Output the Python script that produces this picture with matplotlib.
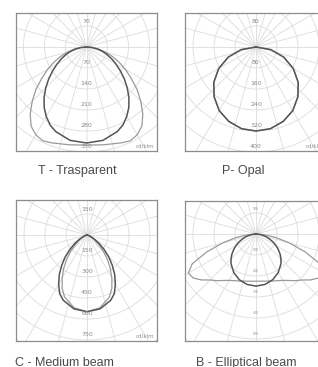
import numpy as np
import matplotlib
matplotlib.use("Agg")
import matplotlib.pyplot as plt

W, H = 318, 367
DPI = 100

# ---------------- data (cd/klm, gamma angle from nadir in degrees) ----------------
gamma_T = [0, 10, 20, 25, 30, 35, 40, 45, 50, 55, 60, 65, 70, 75, 80, 85, 90]
T_c0 = [320, 316, 300, 287, 268, 246, 220, 192, 164, 137, 113, 92, 72, 54, 36, 18, 0]
T_c90 = [327, 331, 340, 345, 338, 322, 292, 256, 220, 182, 150, 120, 92, 65, 42, 20, 0]
labels_T = ["70", "140", "210", "280", "350"]

gamma_P = [0, 10, 20, 30, 40, 50, 60, 70, 80, 90]
P_c0 = [320, 316, 302, 280, 248, 210, 164, 112, 57, 0]
P_c90 = [320, 316, 302, 280, 248, 210, 164, 112, 57, 0]
labels_P = ["80", "160", "240", "320", "400"]

gamma_C = [0, 10, 20, 25, 30, 35, 40, 45, 50, 55, 60, 70, 80, 90]
C_c0 = [548, 536, 496, 462, 405, 345, 280, 218, 158, 106, 66, 24, 6, 0]
C_c90 = [548, 528, 470, 420, 355, 290, 225, 165, 112, 72, 44, 14, 3, 0]
labels_C = ["150", "300", "450", "600", "750"]

gamma_B = [0, 10, 20, 30, 40, 45, 50, 55, 60, 65, 70, 75, 80, 85, 90]
B_c0 = [248, 244, 232, 212, 185, 168, 150, 130, 110, 89, 68, 49, 30, 14, 0]
B_c90 = [225, 228, 238, 255, 290, 310, 340, 365, 372, 335, 250, 165, 95, 40, 0]
labels_B = ["100", "200", "300", "400", "500"]

titles = ["T - Trasparent", "P- Opal", "C - Medium beam", "B - Elliptical beam"]
unit_label = "cd/klm"

# ---------------- styling ----------------
GRID = "#dcdcdc"
DARK = "#555555"
LIGHT = "#9a9a9a"
EDGE = "#8c8c8c"
TXT = "#8a8a8a"

fig = plt.figure(figsize=(W / DPI, H / DPI), dpi=DPI)
fig.patch.set_facecolor("white")

STEP_PX = 21.0


def panel(box, center, gam, c0, c90, labels, step, unit=True, tiny=False):
    l, t, r, b = box
    cx, cy = center
    ax = fig.add_axes([l / W, 1 - b / H, (r - l) / W, (b - t) / H])
    ax.set_xlim((l - cx) / STEP_PX, (r - cx) / STEP_PX)
    ax.set_ylim((cy - b) / STEP_PX, (cy - t) / STEP_PX)
    ax.set_xticks([])
    ax.set_yticks([])
    for s in ax.spines.values():
        s.set_color(EDGE)
        s.set_linewidth(0.9)
    # grid circles
    th = np.linspace(0, 2 * np.pi, 361)
    for k in range(1, 9):
        ax.plot(k * np.cos(th), k * np.sin(th), color=GRID, lw=0.6, zorder=1)
    for a in range(0, 360, 15):
        ar = np.deg2rad(a)
        ax.plot([0, 9 * np.cos(ar)], [0, 9 * np.sin(ar)], color=GRID, lw=0.6, zorder=1)
    # curves
    g = np.deg2rad(np.array(gam, dtype=float))
    for vals, col, lw in ((c90, LIGHT, 0.9), (c0, DARK, 1.1)):
        rr = np.array(vals, dtype=float) / step
        x = np.concatenate([-(rr * np.sin(g))[::-1], rr * np.sin(g)])
        y = np.concatenate([-(rr * np.cos(g))[::-1], -rr * np.cos(g)])
        ax.plot(x, y, color=col, lw=lw, zorder=3, solid_capstyle="round")
    # radial labels
    fs = 2.2 if tiny else 4.5
    ax.text(0, 1.2, labels[0], ha="center", va="center", fontsize=fs, color=TXT, zorder=4)
    for k, lab in enumerate(labels, start=1):
        ax.text(0, -k + 0.24, lab, ha="center", va="center", fontsize=fs, color=TXT, zorder=4)
    if unit:
        ax.text((r - 3 - cx) / STEP_PX, (cy - b + 3) / STEP_PX, unit_label, ha="right",
                va="bottom", fontsize=4, color=TXT, zorder=4)
    return ax


panel((16, 13, 157, 151), (86.5, 47), gamma_T, T_c0, T_c90, labels_T, 70)
panel((185, 13, 327, 151), (256, 47), gamma_P, P_c0, P_c90, labels_P, 80)
panel((16, 200, 157, 341), (87, 235), gamma_C, C_c0, C_c90, labels_C, 150)
panel((185, 201, 327, 341), (256, 234), gamma_B, B_c0, B_c90, labels_B, 100, unit=False, tiny=True)

tpos = [(77, 174), (243, 174), (64, 366), (246, 366)]
for (tx, ty), tt in zip(tpos, titles):
    fig.text(tx / W, 1 - ty / H, tt, ha="center", va="baseline", fontsize=9,
             color="#4a4a4a", family="Liberation Sans")

fig.savefig("out.png", dpi=DPI)
